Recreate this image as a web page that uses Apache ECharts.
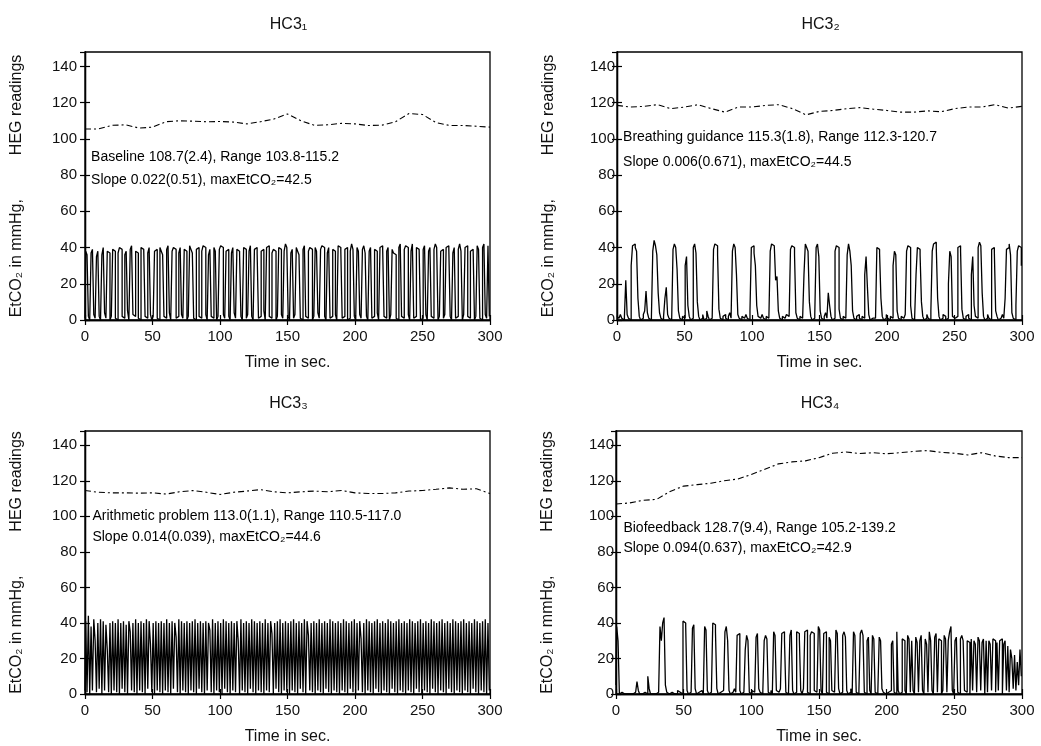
<!DOCTYPE html>
<html>
<head>
<meta charset="utf-8">
<title>HC3 sessions</title>
<script src="https://cdn.jsdelivr.net/npm/echarts@6.0.0/dist/echarts.min.js"></script>
<style>
  html, body { margin: 0; padding: 0; background: #fff; }
  #chart { width: 1041px; height: 746px; }
</style>
</head>
<body>
<div id="chart"></div>
<script>
// ---- data ----------------------------------------------------------------
const panelTitles = ['HC3₁', 'HC3₂', 'HC3₃', 'HC3₄'];
const xTickStep = 50;      // seconds
const yTickStep = 20;      // mmHg / HEG units

// HEG readings, one value every 10 s (0..300 s)
const hegTimes = [0,10,20,30,40,50,60,70,80,90,100,110,120,130,140,150,160,170,180,190,200,210,220,230,240,250,260,270,280,290,300];
const heg1 = [105.5,105.5,107.5,107.8,106.0,106.5,109.5,110.0,109.8,109.5,109.6,109.3,108.3,109.5,111.0,113.8,110.0,107.5,107.8,108.6,108.3,107.4,107.6,109.5,114.0,113.5,109.0,107.4,107.4,107.0,106.5];
const heg2 = [118.5,117.6,118.0,118.9,116.7,117.6,118.9,116.7,114.8,117.6,117.6,118.5,118.9,116.7,113.3,115.2,115.7,116.7,117.3,116.4,115.7,114.8,114.8,115.5,115.0,116.7,117.6,117.6,118.9,117.0,118.0];
const heg3 = [114.5,113.5,113.2,113.2,113.0,113.2,112.5,113.8,114.5,113.5,112.3,113.5,114.2,115.0,113.8,113.2,113.8,114.2,113.8,114.5,113.2,112.8,112.8,113.2,114.2,114.5,115.2,116.0,115.2,115.5,112.8];
const heg4 = [106.9,107.5,109.0,109.5,114.0,117.0,117.8,118.6,120.0,121.0,123.5,126.5,129.5,130.6,131.2,133.0,135.5,136.2,135.3,135.8,135.2,135.8,136.5,137.0,136.0,135.5,134.5,135.8,134.0,133.0,133.0];

// EtCO2 capnogram, one sample per second (0..300 s)
const etco2_1 = [
  1,38,36,2,0,37,39,3,1,35, 38,2,0,36,40,4,1,38,37,0, 2,39,38,1,0,37,40,39,2,1, 36,38,5,0,39,41,3,2,38,37,
  1,0,40,39,38,2,1,37,40,3, 0,2,38,39,1,0,40,38,36,2, 1,39,41,4,0,38,40,39,1,2, 37,40,3,1,39,38,0,2,41,39,
  37,1,0,39,40,2,1,38,41,40, 3,0,36,39,2,1,40,38,0,2, 39,41,40,3,1,38,39,2,0,37, 40,4,1,39,38,36,2,0,40,39,
  1,3,38,41,2,0,39,40,37,1, 2,38,39,5,0,40,41,2,1,37, 39,38,0,2,40,39,3,1,38,42, 40,2,0,37,39,1,3,40,38,36,
  1,0,39,41,2,1,38,40,39,0, 2,40,38,4,1,39,41,40,2,0, 37,40,1,2,39,38,3,0,41,40, 38,1,2,39,40,0,1,38,42,39,
  2,0,40,38,3,1,39,41,37,2, 0,38,40,1,2,39,38,4,0,40, 41,39,2,1,38,40,0,3,39,37, 36,1,0,40,42,2,1,39,41,40,
  3,0,38,42,1,2,40,39,38,0, 1,39,41,3,0,38,40,2,1,39, 42,40,0,2,38,39,1,3,40,41, 39,2,0,37,40,1,2,39,42,38,
  0,3,40,41,2,1,38,39,40,0, 2,41,39,1,0,40,42,3,1,41, 2
];
const etco2_2 = [
  2,1,0,3,1,0,2,22,3,1, 0,30,41,42,40,38,12,2,0,1, 3,5,16,4,1,0,2,38,44,41, 36,15,4,1,0,2,12,18,3,1,
  0,1,39,42,40,28,5,1,0,2, 1,30,35,8,2,0,1,40,42,37, 10,2,0,1,3,0,1,5,2,0, 1,2,39,42,41,36,6,1,0,2,
  3,1,0,2,4,1,38,42,40,25, 3,1,0,2,1,0,3,1,0,5, 40,41,37,30,8,2,1,0,3,1, 0,2,1,0,38,42,41,40,22,24,
  5,1,0,2,1,0,3,2,1,39, 41,40,36,4,1,0,2,1,0,25, 42,40,38,10,2,0,1,3,40,42, 35,5,1,0,2,4,1,15,8,2,
  0,1,38,41,40,6,1,0,2,1, 0,36,42,38,30,5,1,0,2,3, 1,0,2,1,25,35,18,3,0,1, 2,1,0,40,39,37,12,2,0,1,
  3,1,0,2,1,30,38,36,5,1, 0,2,1,0,3,38,41,40,8,1, 0,2,25,40,39,36,10,2,0,1, 3,1,0,5,38,42,43,40,12,2,
  0,1,3,2,0,1,20,38,35,2, 1,0,2,40,41,38,6,1,0,2, 3,1,0,25,35,8,2,1,40,43, 41,15,2,0,1,3,1,0,39,40,
  38,5,2,0,1,0,3,1,12,39, 40,42,36,4,1,0,8,38,41,40, 30
];
const etco2_3 = [
  2,41,1,44,0,38,2,42,30,1, 40,3,42,0,41,2,39,25,1,40, 0,41,2,40,1,42,0,40,3,41, 1,39,0,41,35,2,40,1,42,0,
  40,2,41,1,40,0,42,3,41,28, 1,40,0,41,2,40,1,41,0,40, 2,42,1,40,0,41,3,40,32,1, 42,0,41,2,40,1,41,0,40,2,
  41,1,42,0,40,3,41,1,40,0, 41,2,40,36,1,42,0,40,2,41, 1,40,0,42,3,41,1,40,0,41, 2,40,1,41,30,0,42,2,40,1,
  41,0,40,3,42,1,41,0,40,2, 41,1,40,0,42,2,40,1,41,34, 0,40,3,41,1,42,0,40,2,41, 1,40,0,41,2,42,1,40,0,41,
  3,40,1,42,0,41,33,2,40,1, 41,0,40,2,42,1,40,0,41,3, 40,1,42,0,41,2,40,1,41,0, 40,2,42,1,41,0,40,3,41,1,
  42,0,40,2,41,31,1,40,0,42, 2,41,1,40,0,41,3,42,1,40, 0,41,2,40,1,42,0,41,3,40, 1,41,0,42,2,40,1,41,0,40,
  2,42,1,41,0,40,3,41,1,42, 0,40,2,41,1,40,0,42,3,41, 1,40,0,41,2,42,1,40,0,41, 3,40,1,42,0,41,2,40,1,41,
  0,42,2,40,1,41,0,40,3,42, 1,41,0,40,2,41,1,42,0,40, 2
];
const etco2_4 = [
  5,38,30,0,1,0,0,1,0,0, 0,1,0,0,1,0,7,2,0,0, 0,1,0,0,10,3,0,0,1,0, 0,1,2,38,30,40,43,5,1,0,
  0,1,0,0,1,0,2,1,0,0, 41,40,38,2,0,1,0,37,39,3, 0,1,0,2,1,0,38,36,2,0, 1,0,40,39,35,3,0,1,0,2,
  1,35,38,30,2,0,1,0,3,1, 33,34,2,0,1,0,25,33,30,1, 0,2,1,0,32,34,3,1,0,2, 30,33,31,1,0,2,0,35,33,2,
  1,0,3,34,35,30,1,0,2,33, 36,2,0,1,35,34,31,2,0,3, 35,36,1,0,33,35,34,2,1,0, 38,36,2,0,34,35,1,0,32,30,
  2,1,0,36,34,3,0,1,33,35, 32,2,0,1,3,0,35,33,1,0, 2,34,36,33,1,0,30,32,2,0, 33,31,1,0,2,32,30,3,1,0,
  0,1,0,2,28,30,1,0,35,2, 0,1,31,30,2,0,33,31,1,30, 2,0,32,29,1,30,33,2,0,31, 28,1,35,30,2,0,32,34,1,31,
  30,0,2,33,31,1,30,35,38,2, 0,30,32,1,0,31,33,30,2,1, 30,29,0,31,2,30,28,1,32,30, 2,29,31,0,30,1,30,28,2,31,
  30,1,29,2,30,31,0,28,30,2, 27,1,25,20,3,22,2,18,5,25, 10
];

const notes = [
  ['Baseline 108.7(2.4), Range 103.8-115.2', 'Slope 0.022(0.51), maxEtCO₂=42.5'],
  ['Breathing guidance 115.3(1.8), Range 112.3-120.7', 'Slope 0.006(0.671), maxEtCO₂=44.5'],
  ['Arithmetic problem 113.0(1.1), Range 110.5-117.0', 'Slope 0.014(0.039), maxEtCO₂=44.6'],
  ['Biofeedback 128.7(9.4), Range 105.2-139.2', 'Slope 0.094(0.637), maxEtCO₂=42.9']
];
// anchor of each two-line note, in data units (time s, reading)
const noteAnchors = [[3, 90, 77], [3, 101, 87], [4, 100, 88], [4, 93.5, 82]];

const hegSeries = [heg1, heg2, heg3, heg4];
const etco2Series = [etco2_1, etco2_2, etco2_3, etco2_4];

// ---- layout --------------------------------------------------------------
const grids = [
  { left: 85,  top: 52,  width: 405, height: 268 },
  { left: 617, top: 52,  width: 405, height: 268 },
  { left: 85,  top: 431, width: 405, height: 265 },
  { left: 616, top: 431, width: 406, height: 265 }
];
const yLabelMargin = [8, 2, 8, 2];

const FONT = '"Liberation Sans", Arial, Helvetica, sans-serif';
const INK = '#111';

const option = {
  animation: false,
  backgroundColor: '#fff',
  textStyle: { fontFamily: FONT, color: INK },
  title: [],
  grid: [],
  xAxis: [],
  yAxis: [],
  series: []
};

grids.forEach((g, i) => {
  option.grid.push({
    left: g.left, top: g.top, width: g.width, height: g.height,
    show: true, borderColor: '#000', borderWidth: 1.3, backgroundColor: '#fff',
    containLabel: false
  });
  option.title.push({
    text: panelTitles[i],
    left: g.left + g.width / 2 - 4,
    top: g.top - 40,
    textAlign: 'center',
    textStyle: { fontFamily: FONT, fontSize: 16, fontWeight: 'normal', color: INK }
  });

  const tickStyle = { inside: true, length: 5, lineStyle: { color: '#000', width: 1.2 } };
  // bottom axis with labels
  option.xAxis.push({
    gridIndex: i, type: 'value', min: 0, max: 300, interval: xTickStep, position: 'bottom',
    axisLine: { show: true, lineStyle: { color: '#000', width: 1.3 } },
    axisTick: tickStyle,
    axisLabel: { fontFamily: FONT, fontSize: 15, color: INK, margin: 9 },
    splitLine: { show: false },
    name: 'Time in sec.', nameLocation: 'middle', nameGap: 35,
    nameTextStyle: { fontFamily: FONT, fontSize: 16, color: INK }
  });
  // top mirror axis (ticks only)
  option.xAxis.push({
    gridIndex: i, type: 'value', min: 0, max: 300, interval: xTickStep, position: 'top',
    axisLine: { show: true, lineStyle: { color: '#000', width: 1.3 } },
    axisTick: tickStyle, axisLabel: { show: false }, splitLine: { show: false }
  });
  // left axis with labels
  option.yAxis.push({
    gridIndex: i, type: 'value', min: 0, max: 148, interval: yTickStep, position: 'left',
    axisLine: { show: true, lineStyle: { color: '#000', width: 1.3 } },
    axisTick: tickStyle,
    axisLabel: { fontFamily: FONT, fontSize: 15, color: INK, margin: yLabelMargin[i], showMaxLabel: false },
    splitLine: { show: false },
    name: '{a|EtCO₂ in mmHg,}{g|}{a|HEG readings}',
    nameLocation: 'middle', nameRotate: 90, nameGap: 60,
    nameTextStyle: {
      rich: {
        a: { fontFamily: FONT, fontSize: 16, color: INK },
        g: { width: 44 }
      }
    }
  });
  // right mirror axis (ticks only)
  option.yAxis.push({
    gridIndex: i, type: 'value', min: 0, max: 148, interval: yTickStep, position: 'right',
    axisLine: { show: true, lineStyle: { color: '#000', width: 1.3 } },
    axisTick: tickStyle, axisLabel: { show: false }, splitLine: { show: false }
  });

  const xi = i * 2, yi = i * 2;
  // capnogram (sample-and-hold trace)
  option.series.push({
    type: 'line', xAxisIndex: xi, yAxisIndex: yi,
    data: etco2Series[i].map((v, s) => [s, v]),
    step: 'middle',
    showSymbol: false, symbol: 'none',
    lineStyle: { color: '#000', width: 1.3 },
    z: 2
  });
  // HEG trace
  option.series.push({
    type: 'line', xAxisIndex: xi, yAxisIndex: yi,
    data: hegTimes.map((t, k) => [t, hegSeries[i][k]]),
    showSymbol: false, symbol: 'none',
    lineStyle: { color: '#000', width: 1.1, type: [6, 3, 2, 3] },
    z: 3
  });
  // two-line summary note
  const a = noteAnchors[i];
  option.series.push({
    type: 'scatter', xAxisIndex: xi, yAxisIndex: yi,
    symbolSize: 0, silent: true,
    itemStyle: { color: '#000' },
    data: [
      { value: [a[0], a[1]], label: { formatter: notes[i][0] } },
      { value: [a[0], a[2]], label: { formatter: notes[i][1] } }
    ],
    label: {
      show: true, position: 'right', distance: 2,
      fontFamily: FONT, fontSize: 14, color: '#000',
      textBorderWidth: 0, opacity: 1
    },
    z: 4
  });
});

const chart = echarts.init(document.getElementById('chart'), null, { renderer: 'canvas' });
chart.setOption(option);
</script>
</body>
</html>
